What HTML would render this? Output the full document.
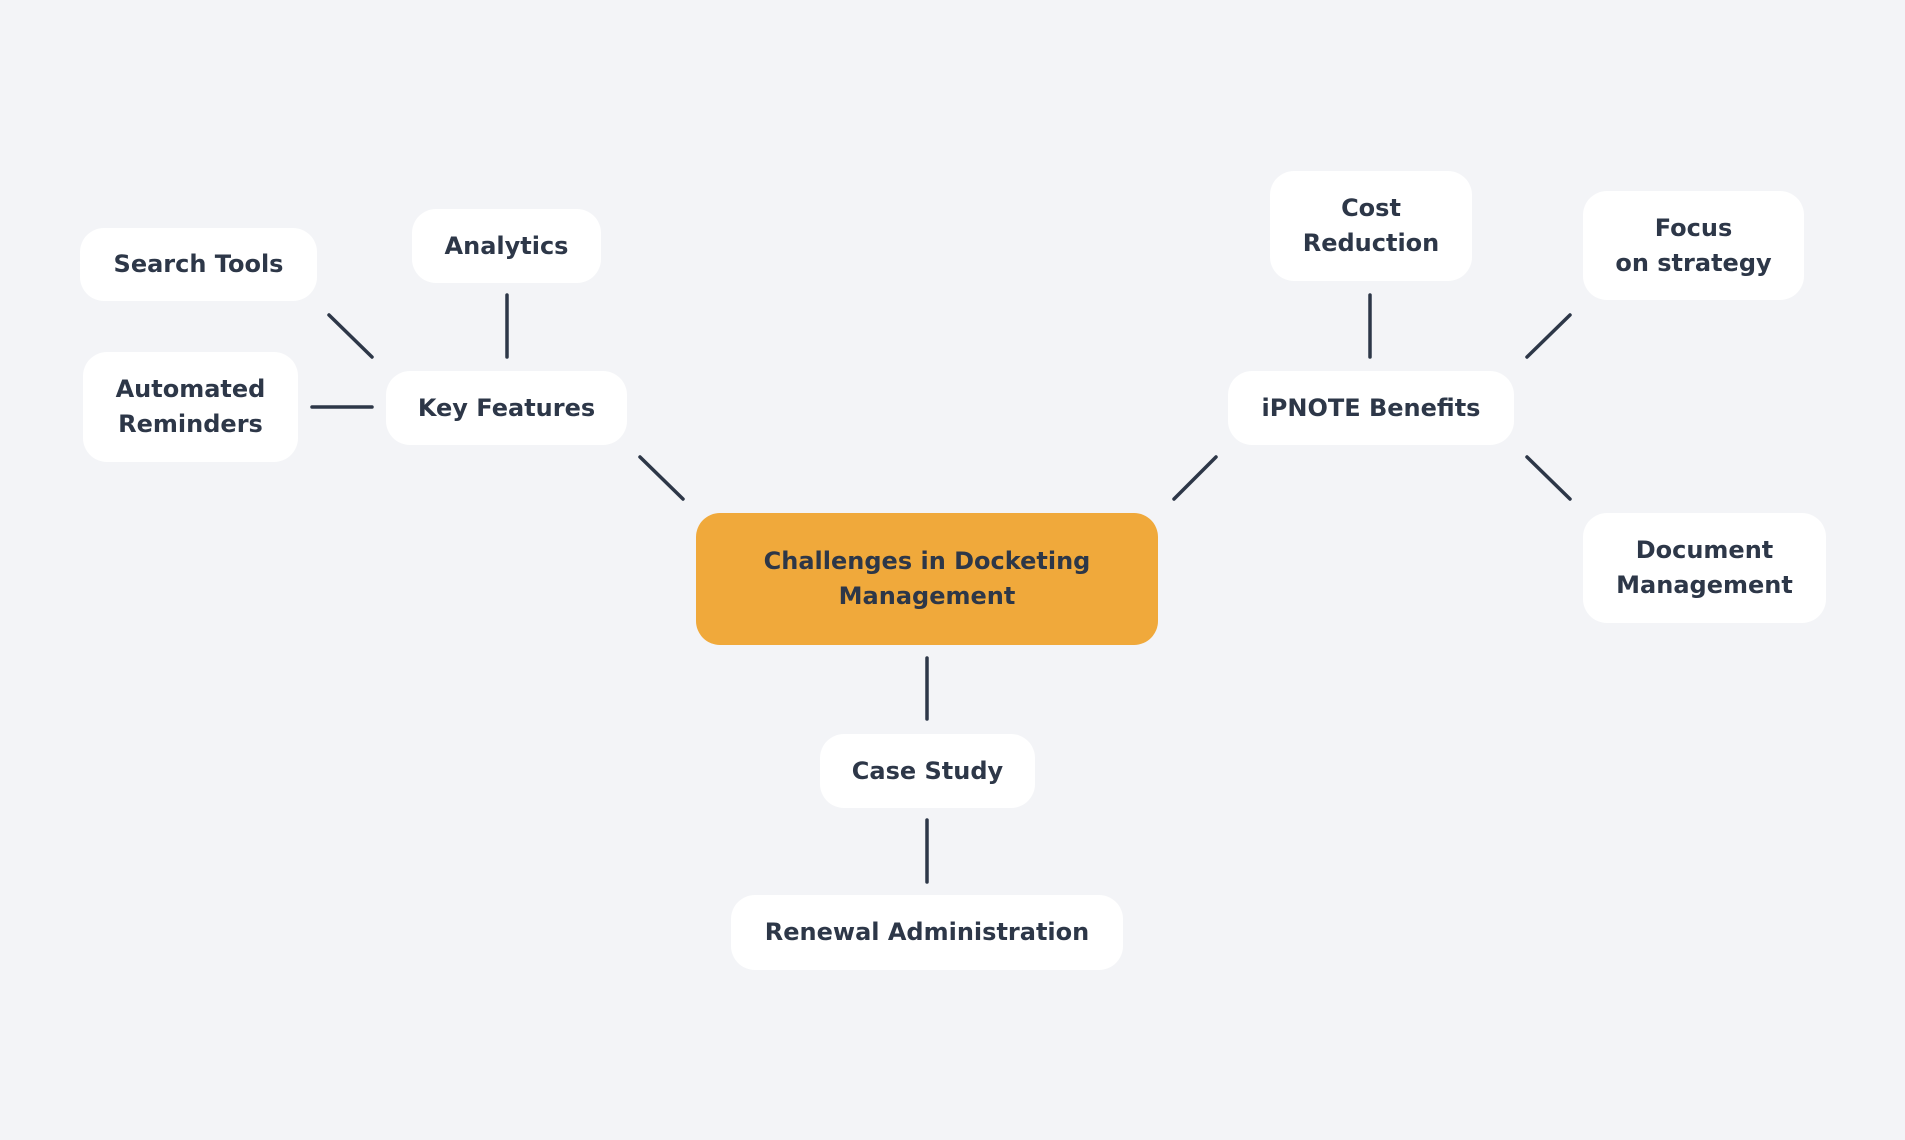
<!DOCTYPE html>
<html><head><meta charset="utf-8"><style>
html,body{margin:0;padding:0;}
body{width:1905px;height:1140px;background:#f3f4f7;position:relative;overflow:hidden;font-family:"DejaVu Sans","Liberation Sans",sans-serif;}
.n{position:absolute;background:#fff;border-radius:24px;display:flex;align-items:center;justify-content:center;text-align:center;color:#2d3748;font-weight:bold;font-size:24px;line-height:35px;box-sizing:border-box;}
.c{background:#f0a93b;}
svg{position:absolute;left:0;top:0;}
</style></head><body>
<svg width="1905" height="1140"><g stroke="#2d3748" stroke-width="3.5" stroke-linecap="round">
<line x1="640" y1="457" x2="683" y2="499"/>
<line x1="329" y1="315" x2="372" y2="357"/>
<line x1="507" y1="295" x2="507" y2="357"/>
<line x1="312" y1="407" x2="372" y2="407"/>
<line x1="1216" y1="457" x2="1174" y2="499"/>
<line x1="1370" y1="295" x2="1370" y2="357"/>
<line x1="1527" y1="357" x2="1570" y2="315"/>
<line x1="1527" y1="457" x2="1570" y2="499"/>
<line x1="927" y1="658" x2="927" y2="719"/>
<line x1="927" y1="820" x2="927" y2="882"/>
</g></svg>
<div class="n c" style="left:696px;top:513px;width:462px;height:132px;">Challenges in Docketing<br>Management</div>
<div class="n" style="left:386px;top:371px;width:241px;height:74px;">Key Features</div>
<div class="n" style="left:80px;top:228px;width:237px;height:73px;">Search Tools</div>
<div class="n" style="left:412px;top:209px;width:189px;height:74px;">Analytics</div>
<div class="n" style="left:83px;top:352px;width:215px;height:110px;">Automated<br>Reminders</div>
<div class="n" style="left:1228px;top:371px;width:286px;height:74px;">iPNOTE Benefits</div>
<div class="n" style="left:1270px;top:171px;width:202px;height:110px;">Cost<br>Reduction</div>
<div class="n" style="left:1583px;top:191px;width:221px;height:109px;">Focus<br>on strategy</div>
<div class="n" style="left:1583px;top:513px;width:243px;height:110px;">Document<br>Management</div>
<div class="n" style="left:820px;top:734px;width:215px;height:74px;">Case Study</div>
<div class="n" style="left:731px;top:895px;width:392px;height:75px;">Renewal Administration</div>
</body></html>
